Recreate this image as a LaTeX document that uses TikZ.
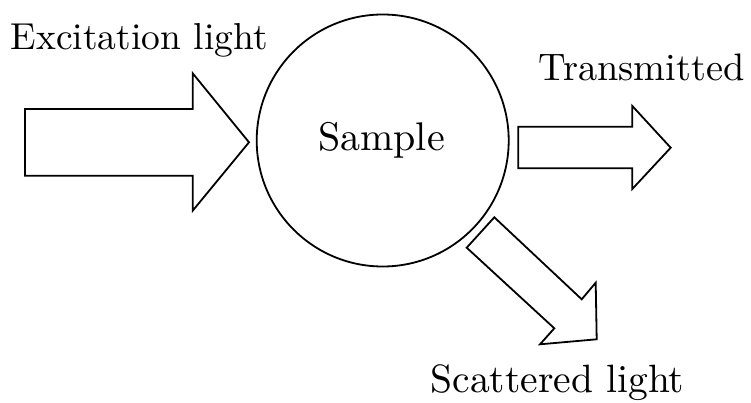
\documentclass[tikz,border=0pt]{standalone}
\usepackage{fontspec}
\setmainfont{lmroman10-regular}[Extension=.otf]
\usetikzlibrary{calc}
\begin{document}
\begin{tikzpicture}[x=1pt,y=-1pt,
  arrowshape/.style={draw=black,line width=1.8pt,fill=white,line join=miter},
  lbl/.style={font=\fontsize{#1}{#1}\selectfont,inner sep=0pt,anchor=base},
  lbl/.default=39]
\useasboundingbox (0,0) rectangle (751,403);
% sample circle
\node[draw=black,line width=1.8pt,circle,minimum size=252pt,inner sep=0pt] (sample) at (382.7,140.5) {};
\node[lbl=40] (sampletext) at (381.5,150.7) {Sample};
% excitation arrow
\draw[arrowshape] (25,109) -- (192.7,109) -- (192.7,73.3) -- (249,142.3) -- (192.7,210.7) -- (192.7,175.7) -- (25,175.7) -- cycle;
% transmitted arrow
\draw[arrowshape] (518.3,126.7) -- (632.3,126.7) -- (632.3,106) -- (670.7,147.7) -- (632.3,189) -- (632.3,168.3) -- (518.3,168.3) -- cycle;
% scattered arrow
\draw[arrowshape] (494.3,217.3) -- (581.7,299.3) -- (595.7,282.7) -- (596.7,339.3) -- (540,344.3) -- (554.3,328.3) -- (466.7,247.7) -- cycle;
% labels
\node[lbl=37.5] (excit) at (139.2,50) {Excitation light};
\node[lbl=38.3] (trans) at (641.7,81) {Transmitted};
\node[lbl=39.5] (scat) at (557.5,392.3) {Scattered light};
\end{tikzpicture}
\end{document}
